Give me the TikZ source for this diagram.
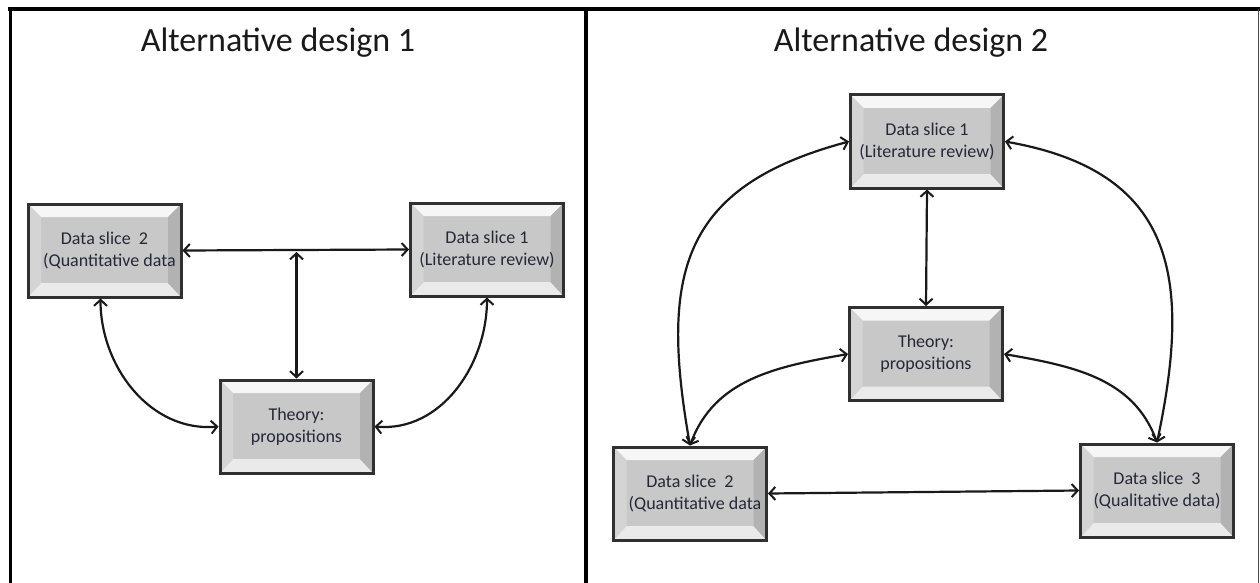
\documentclass[tikz,border=0pt]{standalone}
\usepackage{fontspec}
\setmainfont{Carlito}
\usetikzlibrary{arrows.meta}
\definecolor{face}{HTML}{C8C8C8}
\definecolor{bevtop}{HTML}{F6F6F6}
\definecolor{bevbot}{HTML}{EAEAEA}
\definecolor{bevleft}{HTML}{D4D4D4}
\definecolor{bevright}{HTML}{B2B2B2}
\definecolor{edge}{HTML}{303030}
\definecolor{txt}{HTML}{262838}
\tikzset{
  slicebox/.style={draw=edge, line width=3pt, fill=face,
    minimum width=153pt, minimum height=93pt, inner sep=0pt,
    align=center, text=txt, font=\fontsize{18}{22}\selectfont,
    path picture={
      \coordinate (bnw) at (path picture bounding box.north west);
      \coordinate (bne) at (path picture bounding box.north east);
      \coordinate (bsw) at (path picture bounding box.south west);
      \coordinate (bse) at (path picture bounding box.south east);
      \fill[bevtop] (bnw) -- (bne) -- ([shift={(-13pt,-13pt)}]bne) -- ([shift={(13pt,-13pt)}]bnw) -- cycle;
      \fill[bevbot] (bsw) -- (bse) -- ([shift={(-13pt,14pt)}]bse) -- ([shift={(13pt,14pt)}]bsw) -- cycle;
      \fill[bevleft] (bnw) -- (bsw) -- ([shift={(13pt,14pt)}]bsw) -- ([shift={(13pt,-13pt)}]bnw) -- cycle;
      \fill[bevright] (bne) -- (bse) -- ([shift={(-13pt,14pt)}]bse) -- ([shift={(-13pt,-13pt)}]bne) -- cycle;
    }},
  link/.style={line width=2.2pt, draw=black!90,
    {Straight Barb[length=6pt,width=13pt,line width=2pt]}-{Straight Barb[length=6pt,width=13pt,line width=2pt]}},
  frame/.style={line width=3.8pt, black},
  title/.style={font=\fontsize{34}{38}\selectfont, text=black!90}
}
\begin{document}
\begin{tikzpicture}[x=1pt,y=-1pt]
\useasboundingbox (0,0) rectangle (1260,583);
\fill[white] (0,0) rectangle (1260,583);
% frame
\draw[frame] (8,9) -- (1260,9);
\draw[frame] (10.5,7) -- (10.5,583);
\draw[frame] (586,7) -- (586,583);
\draw[line width=1pt, black!70] (1258.5,9) -- (1258.5,583);
% titles
\node[title] (t1) at (278,43) {Alternative design 1};
\node[title] (t2) at (911,43) {Alternative design 2};
% left design
\node[slicebox] (l2) at (104.5,250.5) {Data slice \ 2\\\hspace*{10pt}(Quantitative data};
\node[slicebox] (l1) at (487,249.5) {Data slice 1\\(Literature review)};
\node[slicebox] (lt) at (296.5,426.5) {Theory:\\propositions};
\coordinate (lm) at (lt.north |- l2.east);
\draw[link] (l2.east) -- (l1.west);
\draw[link] (lt.north) -- ([yshift=-1.5pt]lm);
\draw[link] ([xshift=-4pt]l2.south) to[out=-90,in=185] (lt.west);
\draw[link] (l1.south) to[out=-90,in=-5] (lt.east);
% right design
\node[slicebox] (r1) at (927,141.5) {Data slice 1\\(Literature review)};
\node[slicebox] (rt) at (926,354) {Theory:\\propositions};
\node[slicebox] (r2) at (690,493.5) {Data slice \ 2\\\hspace*{10pt}(Quantitative data};
\node[slicebox] (r3) at (1157,490.5) {Data slice \ 3\\(Qualitative data)};
\draw[link] (r1.south) -- (rt.north);
\draw[link] (r2.north) to[out=100,in=195,looseness=1.3] (r1.west);
\draw[link] (r1.east) to[out=-10,in=78,looseness=1.3] (r3.north);
\draw[link] (r2.north) to[out=70,in=190] (rt.west);
\draw[link] (rt.east) to[out=-10,in=110] (r3.north);
\draw[link] (r2.east) -- (r3.west);
\end{tikzpicture}
\end{document}
